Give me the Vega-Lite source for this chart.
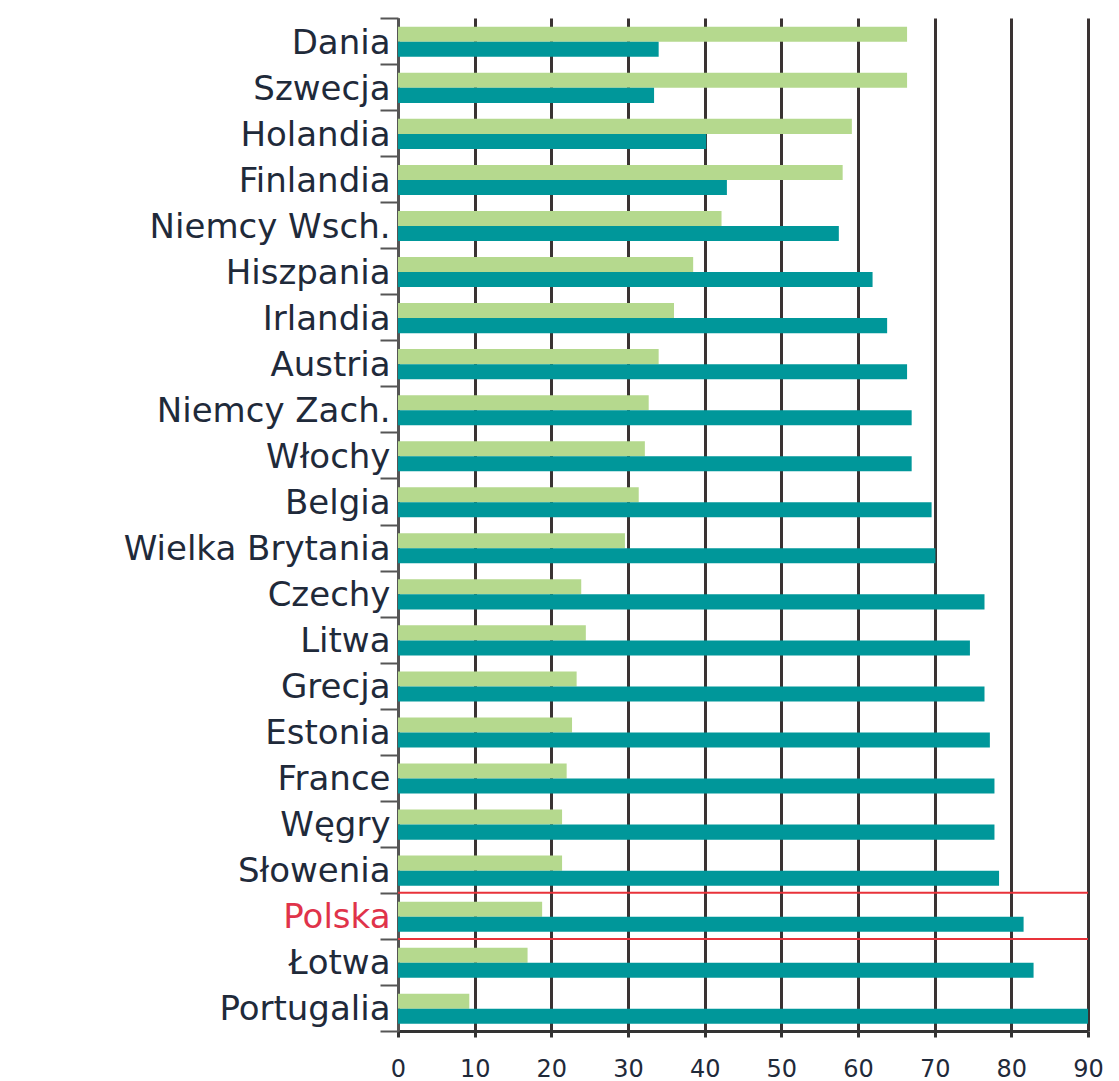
{
  "$schema": "https://vega.github.io/schema/vega-lite/v6.json",
  "autosize": "none",
  "width": 690,
  "height": 1013,
  "padding": {"left": 398, "top": 18, "right": 31, "bottom": 50},
  "background": "white",
  "config": {"view": {"stroke": null}},
  "datasets": {
    "bars": [
      {"country": "Dania", "series": "a", "value": 66.4},
      {"country": "Dania", "series": "b", "value": 34.0},
      {"country": "Szwecja", "series": "a", "value": 66.4},
      {"country": "Szwecja", "series": "b", "value": 33.4},
      {"country": "Holandia", "series": "a", "value": 59.2},
      {"country": "Holandia", "series": "b", "value": 40.2},
      {"country": "Finlandia", "series": "a", "value": 58.0},
      {"country": "Finlandia", "series": "b", "value": 42.9},
      {"country": "Niemcy Wsch.", "series": "a", "value": 42.2},
      {"country": "Niemcy Wsch.", "series": "b", "value": 57.5},
      {"country": "Hiszpania", "series": "a", "value": 38.5},
      {"country": "Hiszpania", "series": "b", "value": 61.9},
      {"country": "Irlandia", "series": "a", "value": 36.0},
      {"country": "Irlandia", "series": "b", "value": 63.8},
      {"country": "Austria", "series": "a", "value": 34.0},
      {"country": "Austria", "series": "b", "value": 66.4},
      {"country": "Niemcy Zach.", "series": "a", "value": 32.7},
      {"country": "Niemcy Zach.", "series": "b", "value": 67.0},
      {"country": "Włochy", "series": "a", "value": 32.2},
      {"country": "Włochy", "series": "b", "value": 67.0},
      {"country": "Belgia", "series": "a", "value": 31.4},
      {"country": "Belgia", "series": "b", "value": 69.6},
      {"country": "Wielka Brytania", "series": "a", "value": 29.6},
      {"country": "Wielka Brytania", "series": "b", "value": 70.1},
      {"country": "Czechy", "series": "a", "value": 23.9},
      {"country": "Czechy", "series": "b", "value": 76.5},
      {"country": "Litwa", "series": "a", "value": 24.5},
      {"country": "Litwa", "series": "b", "value": 74.6},
      {"country": "Grecja", "series": "a", "value": 23.3},
      {"country": "Grecja", "series": "b", "value": 76.5},
      {"country": "Estonia", "series": "a", "value": 22.7},
      {"country": "Estonia", "series": "b", "value": 77.2},
      {"country": "France", "series": "a", "value": 22.0},
      {"country": "France", "series": "b", "value": 77.8},
      {"country": "Węgry", "series": "a", "value": 21.4},
      {"country": "Węgry", "series": "b", "value": 77.8},
      {"country": "Słowenia", "series": "a", "value": 21.4},
      {"country": "Słowenia", "series": "b", "value": 78.4},
      {"country": "Polska", "series": "a", "value": 18.8},
      {"country": "Polska", "series": "b", "value": 81.6},
      {"country": "Łotwa", "series": "a", "value": 16.9},
      {"country": "Łotwa", "series": "b", "value": 82.9},
      {"country": "Portugalia", "series": "a", "value": 9.3},
      {"country": "Portugalia", "series": "b", "value": 90.0}
    ],
    "highlight": [{"country": "Polska"}]
  },
  "layer": [
    {
      "data": {"name": "bars"},
      "mark": {"type": "bar"},
      "encoding": {
        "y": {
          "field": "country",
          "type": "nominal",
          "sort": ["Dania","Szwecja","Holandia","Finlandia","Niemcy Wsch.","Hiszpania","Irlandia","Austria","Niemcy Zach.","Włochy","Belgia","Wielka Brytania","Czechy","Litwa","Grecja","Estonia","France","Węgry","Słowenia","Polska","Łotwa","Portugalia"],
          "scale": {"paddingInner": 0, "paddingOuter": 0},
          "title": null,
          "axis": {
            "tickBand": "extent",
            "tickSize": 18,
            "tickWidth": 2,
            "tickColor": "#555555",
            "domainColor": "#555555",
            "domainWidth": 3,
            "labelPadding": -10,
            "labelOffset": 2,
            "labelFont": "DejaVu Sans",
            "labelFontSize": 34,
            "labelColor": {"condition": {"test": "datum.value === 'Polska'", "value": "#e0334a"}, "value": "#1f2a3a"},
            "labelLimit": 500,
            "grid": false
          }
        },
        "yOffset": {"field": "series", "type": "nominal", "scale": {"paddingOuter": 0.53, "paddingInner": 0, "align": 0.55}},
        "x": {
          "field": "value",
          "type": "quantitative",
          "scale": {"domain": [0, 90], "nice": false},
          "title": null,
          "axis": {
            "values": [0,10,20,30,40,50,60,70,80,90],
            "grid": true,
            "gridColor": "#3a3333",
            "gridWidth": 3,
            "gridOpacity": 1,
            "domainColor": "#333333",
            "domainWidth": 3,
            "tickSize": 6,
            "tickWidth": 3,
            "tickColor": "#333333",
            "labelFont": "DejaVu Sans",
            "labelFontSize": 24,
            "labelColor": "#1f2a3a",
            "labelPadding": 20,
            "labelFlush": false
          }
        },
        "color": {
          "field": "series",
          "type": "nominal",
          "scale": {"domain": ["a", "b"], "range": ["#b5d98e", "#00979a"]},
          "legend": null
        }
      }
    },
    {
      "data": {"name": "highlight"},
      "mark": {"type": "rule", "color": "#e8323a", "strokeWidth": 2},
      "encoding": {
        "y": {"field": "country", "type": "nominal", "bandPosition": 0, "sort": ["Dania","Szwecja","Holandia","Finlandia","Niemcy Wsch.","Hiszpania","Irlandia","Austria","Niemcy Zach.","Włochy","Belgia","Wielka Brytania","Czechy","Litwa","Grecja","Estonia","France","Węgry","Słowenia","Polska","Łotwa","Portugalia"]},
        "x": {"datum": 0},
        "x2": {"datum": 90}
      }
    },
    {
      "data": {"name": "highlight"},
      "mark": {"type": "rule", "color": "#e8323a", "strokeWidth": 2},
      "encoding": {
        "y": {"field": "country", "type": "nominal", "bandPosition": 1, "sort": ["Dania","Szwecja","Holandia","Finlandia","Niemcy Wsch.","Hiszpania","Irlandia","Austria","Niemcy Zach.","Włochy","Belgia","Wielka Brytania","Czechy","Litwa","Grecja","Estonia","France","Węgry","Słowenia","Polska","Łotwa","Portugalia"]},
        "x": {"datum": 0},
        "x2": {"datum": 90}
      }
    }
  ]
}
